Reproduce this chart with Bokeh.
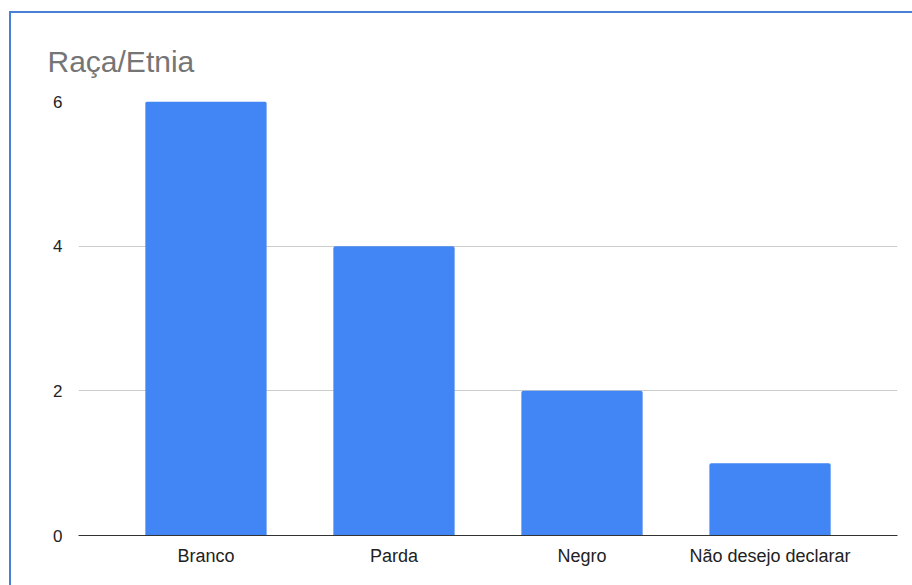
from bokeh.plotting import figure
from bokeh.models import Range1d, FixedTicker, FactorRange
from bokeh.embed import file_html
from bokeh.resources import INLINE

categories = ["Branco", "Parda", "Negro", "Não desejo declarar"]
counts = [6, 4, 2, 1]
y_ticks = [0, 2, 4, 6]

p = figure(
    x_range=FactorRange(*categories, range_padding=0.089, range_padding_units="percent"),
    y_range=Range1d(0, 6),
    width=903, height=574,
    output_backend="svg", toolbar_location=None,
    min_border_left=67, min_border_right=17, min_border_top=88, min_border_bottom=52,
)
p.margin = (11, 0, 0, 9)
p.styles = {"border-top": "2px solid #4a7fd6", "border-left": "2px solid #4a7fd6"}

p.title.text = "Raça/Etnia"
p.title.text_font = "Liberation Sans"
p.title.text_font_size = "30px"
p.title.text_font_style = "normal"
p.title.text_color = "#757575"
p.title.align = "left"
p.title.offset = -31
p.title.standoff = 47

p.vbar(x=categories, top=counts, width=0.645, color="#4285f4", line_color=None,
       border_radius=(2, 2, 0, 0))

p.outline_line_color = None
p.background_fill_color = "white"
p.border_fill_color = "white"

p.xgrid.grid_line_color = None
p.ygrid.grid_line_color = "#cccccc"
p.ygrid.ticker = FixedTicker(ticks=y_ticks)

p.yaxis.ticker = FixedTicker(ticks=y_ticks)
p.yaxis.axis_line_color = None
p.yaxis.major_tick_line_color = None
p.yaxis.minor_tick_line_color = None
p.yaxis.major_label_standoff = 10
p.yaxis.major_label_text_font = "Liberation Sans"
p.yaxis.major_label_text_font_size = "17px"
p.yaxis.major_label_text_color = "#222222"

p.xaxis.axis_line_color = "#333333"
p.xaxis.axis_line_width = 1
p.xaxis.major_tick_line_color = None
p.xaxis.major_label_standoff = 4
p.xaxis.major_label_text_font = "Liberation Sans"
p.xaxis.major_label_text_font_size = "18px"
p.xaxis.major_label_text_color = "#222222"

open("out.html", "w").write(file_html(p, INLINE))
